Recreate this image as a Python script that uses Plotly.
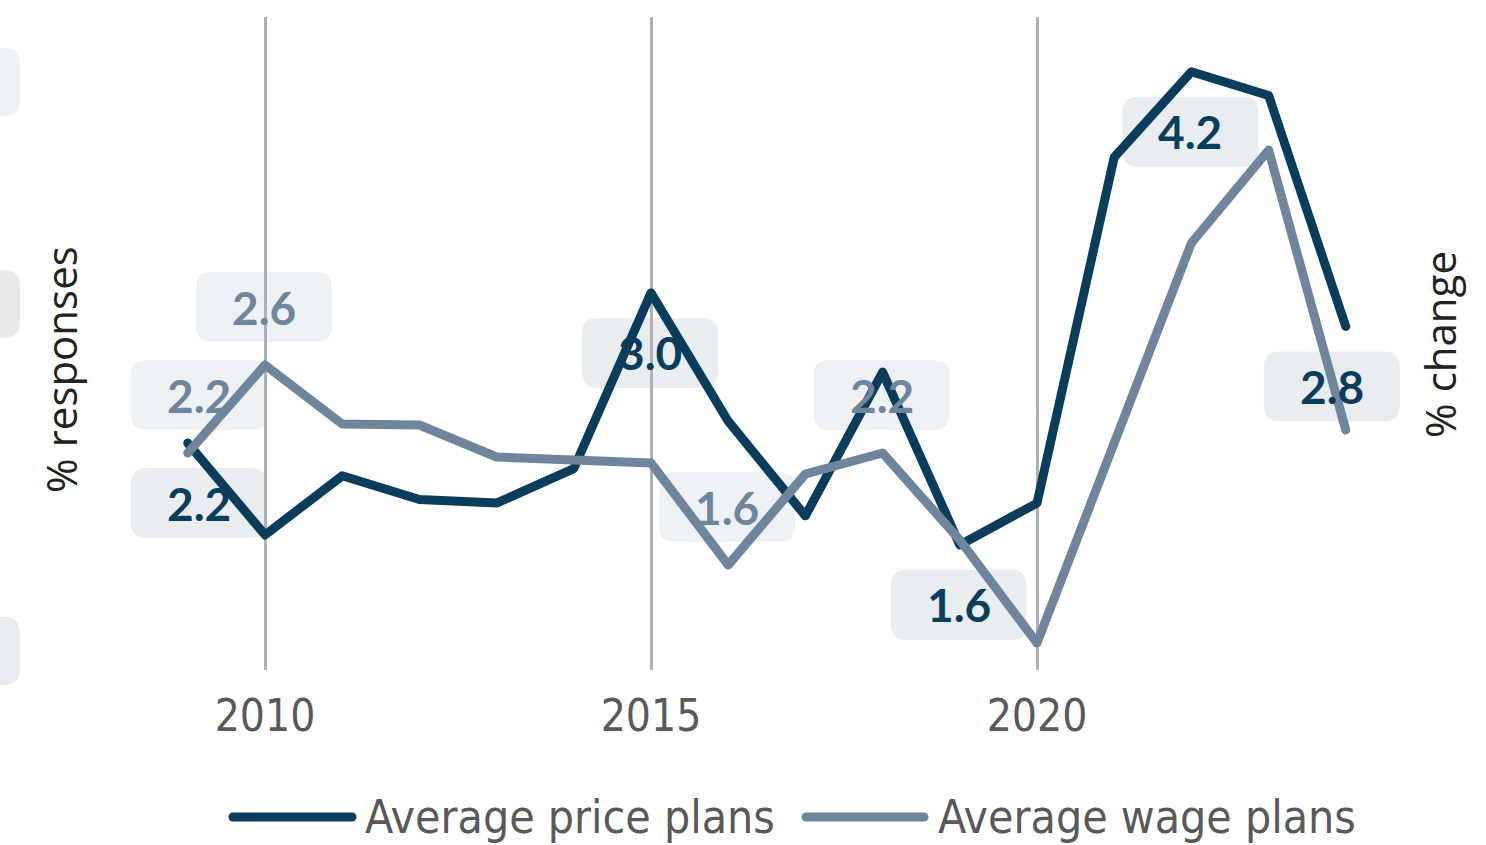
import plotly.graph_objects as go

# ---------------- data ----------------
years = list(range(2009, 2025))
price_plans = [2.16, 1.655, 1.98, 1.85, 1.83, 2.02, 2.985, 2.28, 1.76, 2.55, 1.6, 1.83, 3.73, 4.2, 4.07, 2.8]
wage_plans = [2.16, 2.6, 2.305, 2.3, 2.14, 2.125, 2.11, 1.6, 2.055, 2.16, 1.725, 1.21, 2.21, 3.21, 3.675, 2.275]

price_label_years = [2009, 2015, 2019, 2022, 2024]
wage_label_years = [2009, 2010, 2016, 2018]

x_tick_vals = [2010, 2015, 2020]
series_names = ["Average price plans", "Average wage plans"]
left_title = "% responses"
right_title = "% change"

# ---------------- style ----------------
W, H = 1486, 845
ML, MR, MT, MB = 100, 70, 17, 175
PW, PH = W - ML - MR, H - MT - MB

DARK = "#0a3d5c"
GREY = "#6e859c"
BOX_DARK = "#e9edf0"
BOX_GREY = "#eef1f4"
TXT = "#595959"

TICK_FONT = "DejaVu Sans Condensed, DejaVu Sans, sans-serif"
LABEL_FONT = "Lato, sans-serif"
TITLE_FONT = "Open Sans, sans-serif"

Y_RANGE = [0.913, 4.501]
Y2_RANGE = [1.075, 4.34]


def pxx(p):
    return (p - ML) / PW


def pxy(p):
    return 1 - (p - MT) / PH


def y2_to_y(v):
    frac = (v - Y2_RANGE[0]) / (Y2_RANGE[1] - Y2_RANGE[0])
    return Y_RANGE[0] + frac * (Y_RANGE[1] - Y_RANGE[0])


def rounded_path(cx, cy, w, h, r):
    x0, x1 = cx - w / 2, cx + w / 2
    y0, y1 = cy - h / 2, cy + h / 2
    return (f"M {x0 + r},{y0} L {x1 - r},{y0} Q {x1},{y0} {x1},{y0 + r} "
            f"L {x1},{y1 - r} Q {x1},{y1} {x1 - r},{y1} L {x0 + r},{y1} "
            f"Q {x0},{y1} {x0},{y1 - r} L {x0},{y0 + r} Q {x0},{y0} {x0 + r},{y0} Z")


def rounded_path_paper(px0, py0, px1, py1, r):
    xa, xb = pxx(px0), pxx(px1)
    ya, yb = pxy(py1), pxy(py0)
    rx, ry = r / PW, r / PH
    return (f"M {xa + rx},{ya} L {xb - rx},{ya} Q {xb},{ya} {xb},{ya + ry} "
            f"L {xb},{yb - ry} Q {xb},{yb} {xb - rx},{yb} L {xa + rx},{yb} "
            f"Q {xa},{yb} {xa},{yb - ry} L {xa},{ya + ry} Q {xa},{ya} {xa + rx},{ya} Z")


x_lo = 2010 - (265 - ML) / 77.2
x_hi = 2020 + (ML + PW - 1037) / 77.2

fig = go.Figure()
fig.add_trace(go.Scatter(x=years, y=price_plans, mode="lines", name=series_names[0],
                         line=dict(color=DARK, width=9), yaxis="y", showlegend=False,
                         hoverinfo="skip"))
fig.add_trace(go.Scatter(x=years, y=wage_plans, mode="lines", name=series_names[1],
                         line=dict(color=GREY, width=9), yaxis="y2", showlegend=False,
                         hoverinfo="skip"))

shapes = []
annotations = []

BW, BH, BR = 136, 70, 16


def add_label(year, value, anchor_y, color, box, dx, dy):
    shapes.append(dict(type="path", xref="x", yref="y", xsizemode="pixel", ysizemode="pixel",
                       xanchor=year, yanchor=anchor_y, path=rounded_path(dx, dy, BW, BH, BR),
                       fillcolor=box, line=dict(width=0), layer="below"))
    annotations.append(dict(x=year, y=anchor_y, xref="x", yref="y", text=f"{value:.1f}",
                            showarrow=False, xshift=dx, yshift=dy,
                            xanchor="center", yanchor="middle",
                            font=dict(family=LABEL_FONT, size=46, color=color, weight="bold")))


def label_dx(yr):
    if yr == years[0]:
        return 11
    if yr == years[-1]:
        return -14
    return -1


for yr in price_label_years:
    v = price_plans[years.index(yr)]
    add_label(yr, v, v, DARK, BOX_DARK, label_dx(yr), -60)
for yr in wage_label_years:
    v = wage_plans[years.index(yr)]
    add_label(yr, v, y2_to_y(v), GREY, BOX_GREY, label_dx(yr), 58)

# cut-off boxes at left edge
for (t, b, c) in [(48, 116, "#eef1f4"), (270, 338, "#e8e8e8"), (617, 685, "#e9ecef")]:
    shapes.append(dict(type="path", xref="paper", yref="paper",
                       path=rounded_path_paper(-60, t, 20, b, 16),
                       fillcolor=c, line=dict(width=0), layer="below"))

# manual legend
LEG_Y = 817
for (x0, x1, tx, col, name) in [(233, 352, 363, DARK, series_names[0]),
                                (806, 924, 936, GREY, series_names[1])]:
    shapes.append(dict(type="line", xref="paper", yref="paper", x0=pxx(x0), x1=pxx(x1),
                       y0=pxy(LEG_Y), y1=pxy(LEG_Y), line=dict(color=col, width=9)))
    annotations.append(dict(x=pxx(tx), y=pxy(LEG_Y), xref="paper", yref="paper", text=name,
                            showarrow=False, xanchor="left", yanchor="middle",
                            font=dict(family=TICK_FONT, size=46, color=TXT)))

# axis titles
annotations.append(dict(x=pxx(60), y=pxy(370), xref="paper", yref="paper", text=left_title,
                        textangle=-90, showarrow=False, xanchor="center", yanchor="middle",
                        font=dict(family=TITLE_FONT, size=42, color="#222222")))
annotations.append(dict(x=pxx(1440), y=pxy(345), xref="paper", yref="paper", text=right_title,
                        textangle=-90, showarrow=False, xanchor="center", yanchor="middle",
                        font=dict(family=TITLE_FONT, size=42, color="#222222")))

fig.update_layout(
    width=W, height=H,
    margin=dict(l=ML, r=MR, t=MT, b=MB),
    paper_bgcolor="white", plot_bgcolor="white",
    showlegend=False,
    xaxis=dict(range=[x_lo, x_hi], tickvals=x_tick_vals, ticktext=[str(v) for v in x_tick_vals],
               showgrid=True, gridcolor="#b0b0b0", gridwidth=3, zeroline=False,
               showline=False, ticks="", ticklabelstandoff=16,
               tickfont=dict(family=TICK_FONT, size=44, color=TXT)),
    yaxis=dict(range=Y_RANGE, showgrid=False, zeroline=False, showticklabels=False,
               showline=False, ticks=""),
    yaxis2=dict(range=Y2_RANGE, overlaying="y", side="right", showgrid=False,
                zeroline=False, showticklabels=False, showline=False, ticks=""),
    shapes=shapes,
    annotations=annotations,
)

post = """
document.body.style.margin='0';
function fixLines(){
  document.querySelectorAll('.scatterlayer .js-line, .shapelayer path').forEach(function(p){
    p.style.strokeLinejoin='round'; p.style.strokeLinecap='round';
  });
}
fixLines();
var gd = document.getElementById('{plot_id}');
if (gd && gd.on) { gd.on('plotly_afterplot', fixLines); }
"""

fig.write_html("out.html", post_script=post, config={"displayModeBar": False})
